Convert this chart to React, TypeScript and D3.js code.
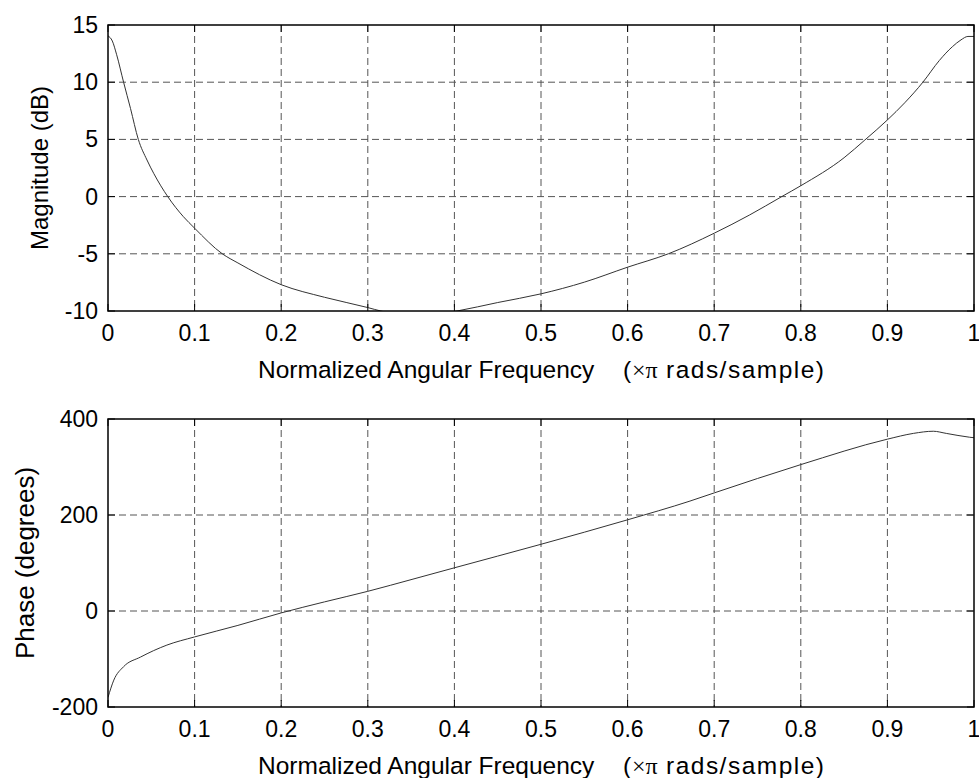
import { useEffect, useRef } from 'react'
import * as d3 from 'd3'

// magnitude response (values below -10 are clipped by the axes)
const magFreq = [0, 0.005, 0.01, 0.018, 0.026, 0.035, 0.045, 0.053, 0.069, 0.087, 0.1, 0.132, 0.15, 0.2, 0.25, 0.3, 0.315, 0.35, 0.37, 0.403, 0.45, 0.5, 0.55, 0.6, 0.647, 0.7, 0.741, 0.778, 0.8, 0.85, 0.874, 0.9, 0.92, 0.941, 0.96, 0.975, 0.985, 0.993, 1.0]
const magDb = [14.05, 13.6, 12.4, 10.0, 7.7, 5.0, 3.2, 2.0, 0.0, -1.75, -2.76, -5.0, -5.8, -7.7, -8.8, -9.7, -10.0, -10.4, -10.4, -10.0, -9.26, -8.5, -7.48, -6.17, -5.0, -3.2, -1.6, 0.0, 0.95, 3.4, 4.95, 6.7, 8.2, 10.0, 11.9, 13.1, 13.7, 14.0, 14.0]

// phase response
const phaseFreq = [0, 0.0067, 0.018, 0.0375, 0.068, 0.1, 0.15, 0.2, 0.25, 0.3, 0.326, 0.4, 0.5, 0.6, 0.672, 0.7, 0.8, 0.9, 0.93, 0.953, 0.968, 0.995, 1.0]
const phaseDeg = [-180, -144, -116, -96, -71, -54, -30, -4, 19, 41, 53.5, 90, 139, 190, 229, 246, 305, 358, 370, 374.5, 370, 362, 361]

const xTicks = [0, 0.1, 0.2, 0.3, 0.4, 0.5, 0.6, 0.7, 0.8, 0.9, 1]
const xTickLabels = ['0', '0.1', '0.2', '0.3', '0.4', '0.5', '0.6', '0.7', '0.8', '0.9', '1']
const magTicks = [-10, -5, 0, 5, 10, 15]
const phaseTicks = [-200, 0, 200, 400]

const FONT = '"Liberation Sans", Arial, sans-serif'

function drawPanel(svg, opts) {
  const { top, bottom, left, right, yDomain, yTicks, xs, ys, yLabel, yLabelX, yLabelSize, id } = opts
  const w = right - left
  const h = bottom - top

  const x = d3.scaleLinear().domain([0, 1]).range([0, w])
  const y = d3.scaleLinear().domain(yDomain).range([h, 0])

  const g = svg.append('g').attr('transform', `translate(${left},${top})`)

  g.append('rect').attr('width', w).attr('height', h).attr('fill', '#fff')

  // dashed grid
  g.append('g').selectAll('line')
    .data(xTicks.slice(1, -1))
    .enter().append('line')
    .attr('x1', d => x(d)).attr('x2', d => x(d))
    .attr('y1', 0).attr('y2', h)
    .attr('stroke', '#555').attr('stroke-dasharray', '7,4')
  g.append('g').selectAll('line')
    .data(yTicks.slice(1, -1))
    .enter().append('line')
    .attr('y1', d => y(d)).attr('y2', d => y(d))
    .attr('x1', 0).attr('x2', w)
    .attr('stroke', '#555').attr('stroke-dasharray', '7,4')

  // curve, clipped to the axes box
  svg.append('clipPath').attr('id', id)
    .append('rect').attr('width', w).attr('height', h)
  const line = d3.line()
    .x((d, i) => x(xs[i]))
    .y(d => y(d))
    .curve(d3.curveMonotoneX)
  g.append('path')
    .datum(ys)
    .attr('clip-path', `url(#${id})`)
    .attr('d', line)
    .attr('fill', 'none')
    .attr('stroke', '#333')
    .attr('stroke-width', 1)

  // ticks on all four sides, pointing in
  const tl = 7
  xTicks.forEach(t => {
    g.append('line').attr('x1', x(t)).attr('x2', x(t)).attr('y1', h).attr('y2', h - tl).attr('stroke', '#000')
    g.append('line').attr('x1', x(t)).attr('x2', x(t)).attr('y1', 0).attr('y2', tl).attr('stroke', '#000')
  })
  yTicks.forEach(t => {
    g.append('line').attr('y1', y(t)).attr('y2', y(t)).attr('x1', 0).attr('x2', tl).attr('stroke', '#000')
    g.append('line').attr('y1', y(t)).attr('y2', y(t)).attr('x1', w).attr('x2', w - tl).attr('stroke', '#000')
  })

  g.append('rect').attr('width', w).attr('height', h)
    .attr('fill', 'none').attr('stroke', '#000').attr('stroke-width', 1.5)

  // tick labels
  g.selectAll('text.xt')
    .data(xTicks)
    .enter().append('text')
    .attr('class', 'xt')
    .attr('x', d => x(d)).attr('y', h + 30)
    .attr('text-anchor', 'middle')
    .style('font-family', FONT).style('font-size', '23px')
    .text((d, i) => xTickLabels[i])
  g.selectAll('text.yt')
    .data(yTicks)
    .enter().append('text')
    .attr('class', 'yt')
    .attr('x', -10).attr('y', d => y(d) + 8)
    .attr('text-anchor', 'end')
    .style('font-family', FONT).style('font-size', '23px')
    .text(d => d)

  // x label, in pieces like the original
  const cx = w / 2
  const ly = h + 67
  g.append('text')
    .attr('x', cx - 283).attr('y', ly)
    .style('font-family', FONT).style('font-size', '24.5px')
    .text('Normalized Angular Frequency')
  g.append('text')
    .attr('x', cx + 82).attr('y', ly)
    .style('font-family', FONT).style('font-size', '24.5px')
    .text('(')
  g.append('text')
    .attr('x', cx + 91).attr('y', ly)
    .style('font-family', '"Liberation Serif", serif').style('font-size', '24px')
    .text('\u00d7\u03c0')
  g.append('text')
    .attr('x', cx + 125).attr('y', ly)
    .attr('textLength', 158).attr('lengthAdjust', 'spacing')
    .style('font-family', FONT).style('font-size', '24.5px')
    .text('rads/sample)')

  g.append('text')
    .attr('transform', `translate(${yLabelX - left},${h / 2}) rotate(-90)`)
    .attr('text-anchor', 'middle')
    .style('font-family', FONT).style('font-size', `${yLabelSize}px`)
    .text(yLabel)
}

export default function App() {
  const svgRef = useRef(null)

  useEffect(() => {
    const svg = d3.select(svgRef.current)
    svg.selectAll('*').remove()

    drawPanel(svg, {
      id: 'clip-mag', top: 25, bottom: 311, left: 108, right: 974,
      yDomain: [-10, 15], yTicks: magTicks, xs: magFreq, ys: magDb,
      yLabel: 'Magnitude (dB)', yLabelX: 48, yLabelSize: 24
    })
    drawPanel(svg, {
      id: 'clip-phase', top: 419, bottom: 707, left: 108, right: 974,
      yDomain: [-200, 400], yTicks: phaseTicks, xs: phaseFreq, ys: phaseDeg,
      yLabel: 'Phase (degrees)', yLabelX: 34, yLabelSize: 26
    })
  }, [])

  return (
    <svg ref={svgRef} width={979} height={778}
      style={{ position: 'absolute', left: 0, top: 0, background: '#fff' }} />
  )
}
